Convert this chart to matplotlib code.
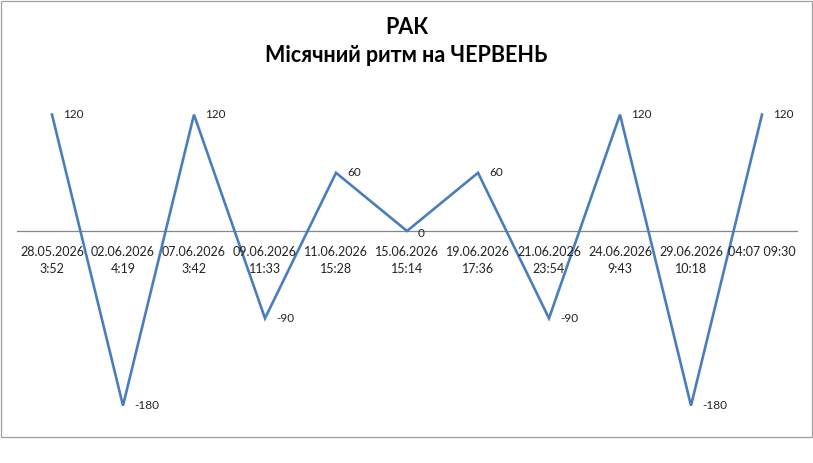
import matplotlib.pyplot as plt
from matplotlib.patches import Rectangle

dates = ['28.05.2026\n3:52', '02.06.2026\n4:19', '07.06.2026\n3:42', '09.06.2026\n11:33',
         '11.06.2026\n15:28', '15.06.2026\n15:14', '19.06.2026\n17:36', '21.06.2026\n23:54',
         '24.06.2026\n9:43', '29.06.2026\n10:18', '04:07 09:30']
values = [120, -180, 120, -90, 60, 0, 60, -90, 120, -180, 120]

W, H = 813, 463
fig = plt.figure(figsize=(W / 100, H / 100), dpi=100)
fig.patches.append(Rectangle((0.5 / W, (H - 437) / H), (W - 1.5) / W, 436.5 / H,
                             transform=fig.transFigure, fill=False, ec='#a0a0a0', lw=0.9))

ymin, ymax = -200, 140
px = 0.97
top = 231 - ymax * px
bot = 231 - ymin * px
ax = fig.add_axes([16.5 / W, (H - bot) / H, 781 / W, (bot - top) / H])
x = list(range(len(values)))
ax.plot(x, values, color='#4a7ebb', lw=1.9, solid_joinstyle='miter')
ax.set_xlim(-0.5, len(values) - 0.5)
ax.set_ylim(ymin, ymax)
ax.axhline(0, color='#868686', lw=0.9, zorder=0)
for s in ax.spines.values():
    s.set_visible(False)
ax.set_yticks([])
ax.set_xticks([])

for i, (d, v) in enumerate(zip(dates, values)):
    ax.annotate(d, (i, 0), xytext=(0, -10.5), textcoords='offset points', ha='center', va='top',
                fontsize=9, family='Lato', color='#222222', linespacing=1.55)
    dy = -2 if v == 0 else 0
    ax.annotate(str(v), (i, v), xytext=(8, dy), textcoords='offset points', ha='left', va='center',
                fontsize=8.5, family='Lato', color='#222222')

fig.text(0.5, 1 - 27 / H, 'РАК', ha='center', va='center', fontsize=15.5, fontweight='bold', family='Lato')
fig.text(0.5, 1 - 55 / H, 'Місячний ритм на ЧЕРВЕНЬ', ha='center', va='center', fontsize=15.5,
         fontweight='bold', family='Lato')

fig.savefig('out.png', dpi=100)
